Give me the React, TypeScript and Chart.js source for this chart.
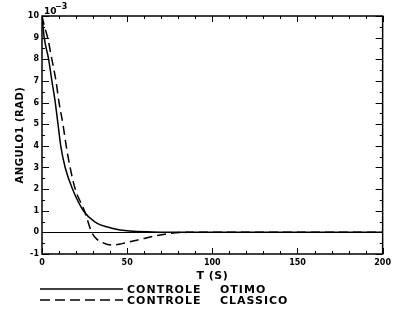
import React, { useEffect, useRef } from "react";
import { Chart, registerables } from "chart.js";

Chart.register(...registerables);

const timeOtimo = [0, 1.3, 3.9, 5.8, 7.8, 9.4, 11, 13.6, 17.9, 24.3, 31, 41.7, 51.6, 65, 80, 200];
const angleOtimo = [10, 9, 8, 7, 6, 5, 4, 3, 2, 1, 0.49, 0.18, 0.06, 0.02, 0, 0];
const timeClassico = [0, 1.2, 3.3, 5.8, 8.2, 10, 12.3, 14.2, 16.5, 19.5, 24.9, 27.1, 29.2, 32, 35, 40.9, 47, 53.5, 60, 67, 75, 85, 200];
const angleClassico = [10, 9.6, 9, 8, 7, 6, 5, 4, 3, 2, 1, 0.47, 0, -0.3, -0.45, -0.59, -0.52, -0.4, -0.28, -0.15, -0.05, 0, 0];

const xTickLabels = ["0", "50", "100", "150", "200"];
const seriesNames = ["CONTROLE", "CONTROLE"];
const seriesSuffix = ["OTIMO", "CLASSICO"];
const yTitle = "ANGULO1 (RAD)";
const xTitle = "T (S)";

const FONT = "'DejaVu Sans', sans-serif";

const framePlugin = {
  id: "frame",
  afterDraw(chart: any) {
    const ctx = chart.ctx;
    const { left, right, top, bottom } = chart.chartArea;
    const x = chart.scales.x;
    const y = chart.scales.y;
    ctx.save();
    ctx.strokeStyle = "#000";
    ctx.lineWidth = 1.5;
    ctx.strokeRect(left, top, right - left, bottom - top);
    ctx.lineWidth = 1;
    const seg = (a: number, b: number, c: number, d: number) => {
      ctx.beginPath();
      ctx.moveTo(a, b);
      ctx.lineTo(c, d);
      ctx.stroke();
    };
    for (let v = 0; v <= 200; v += 10) {
      const px = Math.round(x.getPixelForValue(v)) + 0.5;
      const len = v % 50 === 0 ? 6 : 3;
      seg(px, bottom, px, bottom - len);
      seg(px, top, px, top + len);
    }
    for (let v = -1; v <= 10; v += 0.5) {
      const py = Math.round(y.getPixelForValue(v)) + 0.5;
      const len = Number.isInteger(v) ? 7 : 3;
      seg(left, py, left + len, py);
      seg(right, py, right - len, py);
    }
    // exponent
    ctx.fillStyle = "#000";
    ctx.textBaseline = "alphabetic";
    ctx.textAlign = "left";
    ctx.font = `bold 9px ${FONT}`;
    ctx.fillText("10", left + 2, top - 2);
    ctx.font = `bold 8px ${FONT}`;
    ctx.fillText("\u22123", left + 13, top - 7);
    // axis titles
    ctx.font = `bold 10px ${FONT}`;
    (ctx as any).letterSpacing = "0.5px";
    ctx.save();
    ctx.translate(23, (top + bottom) / 2);
    ctx.rotate(-Math.PI / 2);
    ctx.textAlign = "center";
    ctx.fillText(yTitle, 0, 0);
    ctx.restore();
    ctx.font = `bold 11px ${FONT}`;
    ctx.textAlign = "center";
    ctx.fillText(xTitle, (left + right) / 2, 279);
    // legend
    (ctx as any).letterSpacing = "1px";
    ctx.textAlign = "left";
    ctx.lineWidth = 1.5;
    const rows = [289, 300];
    rows.forEach((ry, i) => {
      ctx.setLineDash(i === 0 ? [] : [10, 5]);
      seg(40, ry, 123, ry);
      ctx.setLineDash([]);
      ctx.font = `bold 11px ${FONT}`;
      ctx.fillText(seriesNames[i], 127, ry + 4);
      ctx.fillText(seriesSuffix[i], 220, ry + 4);
    });
    ctx.restore();
  },
};

export default function App() {
  const ref = useRef<HTMLCanvasElement | null>(null);
  useEffect(() => {
    if (!ref.current) return;
    const chart = new Chart(ref.current, {
      type: "line",
      data: {
        datasets: [
          {
            label: seriesSuffix[0],
            data: timeOtimo.map((t, i) => ({ x: t, y: angleOtimo[i] })),
            borderColor: "#000",
            borderWidth: 1.5,
            pointRadius: 0,
            fill: false,
            cubicInterpolationMode: "monotone",
          },
          {
            label: seriesSuffix[1],
            data: timeClassico.map((t, i) => ({ x: t, y: angleClassico[i] })),
            borderColor: "#000",
            borderWidth: 1.5,
            borderDash: [9, 5],
            pointRadius: 0,
            fill: false,
            cubicInterpolationMode: "monotone",
          },
        ],
      },
      options: {
        animation: false,
        responsive: false,
        maintainAspectRatio: false,
        devicePixelRatio: 1,
        layout: { padding: { left: 0, right: 11, top: 16, bottom: 0 } },
        plugins: { legend: { display: false }, tooltip: { enabled: false } },
        scales: {
          x: {
            type: "linear",
            min: 0,
            max: 200,
            afterFit: (s: any) => {
              s.height = 60;
            },
            afterBuildTicks: (s: any) => {
              s.ticks = xTickLabels.map((l) => ({ value: Number(l) }));
            },
            ticks: {
              color: "#000",
              font: { family: FONT, size: 8, weight: "bold" },
              padding: 4,
              maxRotation: 0,
              autoSkip: false,
            },
            grid: { display: false, drawTicks: false },
            border: { display: false },
          },
          y: {
            min: -1,
            max: 10,
            afterFit: (s: any) => {
              s.width = 42;
            },
            ticks: {
              stepSize: 1,
              color: "#000",
              font: { family: FONT, size: 8, weight: "bold" },
              padding: 3,
              autoSkip: false,
            },
            grid: {
              drawTicks: false,
              color: (c: any) => (c.tick && c.tick.value === 0 ? "#000" : "rgba(0,0,0,0)"),
              lineWidth: 1,
            },
            border: { display: false },
          },
        },
      },
      plugins: [framePlugin],
    } as any);
    return () => chart.destroy();
  }, []);
  return (
    <div style={{ position: "absolute", left: 0, top: 0, width: 395, height: 314, background: "#fff" }}>
      <canvas ref={ref} width={395} height={314} style={{ width: 395, height: 314 }} />
    </div>
  );
}
